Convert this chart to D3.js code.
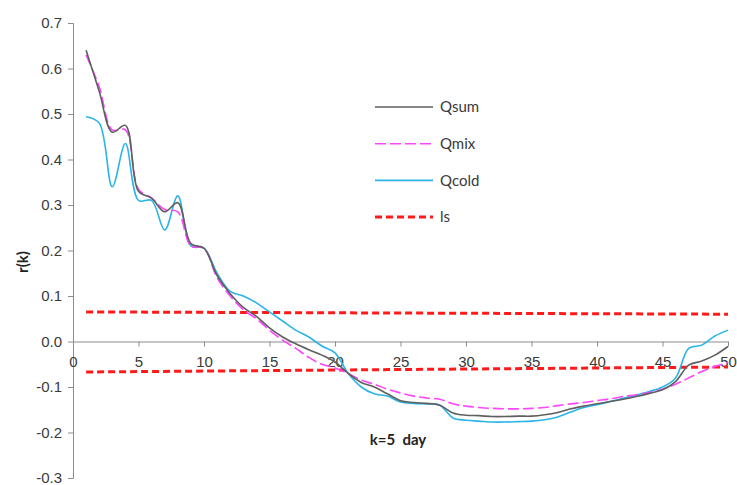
<!DOCTYPE html>
<html>
<head>
<meta charset="utf-8">
<script src="https://cdn.jsdelivr.net/npm/d3@7"></script>
<style>
  html, body { margin: 0; padding: 0; background: #fff; }
  svg { display: block; font-family: Lato, "Open Sans", sans-serif; }
</style>
</head>
<body>
<svg id="chart" width="737" height="485"></svg>
<script>
// Lag k (days) and autocorrelation r(k) for each discharge series
const lags = d3.range(1, 51);

const qsum = [0.64, 0.55, 0.46, 0.475, 0.33, 0.315, 0.285, 0.305, 0.215, 0.205,
  0.145, 0.105, 0.075, 0.055, 0.03, 0.01, -0.005, -0.018, -0.03, -0.045,
  -0.07, -0.09, -0.1, -0.115, -0.13, -0.134, -0.136, -0.14, -0.157, -0.162,
  -0.163, -0.165, -0.165, -0.164, -0.164, -0.161, -0.156, -0.148, -0.142, -0.137,
  -0.132, -0.127, -0.121, -0.114, -0.106, -0.088, -0.052, -0.043, -0.03, -0.011];

const qmix = [0.63, 0.56, 0.465, 0.465, 0.335, 0.315, 0.29, 0.285, 0.21, 0.205,
  0.14, 0.1, 0.07, 0.05, 0.025, 0.003, -0.015, -0.035, -0.05, -0.058,
  -0.07, -0.085, -0.094, -0.105, -0.113, -0.12, -0.124, -0.127, -0.137, -0.142,
  -0.145, -0.147, -0.148, -0.148, -0.147, -0.145, -0.141, -0.137, -0.134, -0.13,
  -0.126, -0.121, -0.117, -0.112, -0.105, -0.094, -0.08, -0.066, -0.055, -0.046];

const qcold = [0.494, 0.48, 0.34, 0.435, 0.31, 0.31, 0.245, 0.32, 0.21, 0.205,
  0.15, 0.11, 0.1, 0.085, 0.065, 0.045, 0.025, 0.01, -0.01, -0.025,
  -0.07, -0.1, -0.115, -0.12, -0.133, -0.136, -0.137, -0.14, -0.168, -0.173,
  -0.175, -0.177, -0.177, -0.176, -0.175, -0.172, -0.166, -0.155, -0.145, -0.139,
  -0.132, -0.125, -0.118, -0.11, -0.1, -0.08, -0.015, -0.008, 0.012, 0.025];

// Significance limits (ls), given at the first and last lag
const lsLags = [1, 50];
const lsUpper = [0.065, 0.060];
const lsLower = [-0.067, -0.056];

const xTicks = d3.range(0, 51, 5);
const yTicks = [-0.3, -0.2, -0.1, 0, 0.1, 0.2, 0.3, 0.4, 0.5, 0.6, 0.7];

const seriesNames = ["Qsum", "Qmix", "Qcold", "ls"];

const svg = d3.select("#chart");
const x = d3.scaleLinear().domain([0, 50]).range([73, 728]);
const y = d3.scaleLinear().domain([-0.3, 0.7]).range([478, 23]);

const axisColor = "#8c8c8c";
const textColor = "#3a3a3a";
const fontSize = "15px";

const styles = {
  Qsum:  { stroke: "#5f5f5f", width: 1.6, dash: null },
  Qmix:  { stroke: "#ff44ff", width: 1.6, dash: "11,4" },
  Qcold: { stroke: "#2bb4e6", width: 1.6, dash: null },
  ls:    { stroke: "#ff1a1a", width: 3,   dash: "7,4" }
};

// Y axis
const yAxis = svg.append("g")
  .attr("transform", `translate(${x(0)},0)`)
  .call(d3.axisLeft(y).tickValues(yTicks).tickSize(5).tickPadding(6)
    .tickFormat(d => d3.format(".1f")(d).replace("\u2212", "-")));
yAxis.select(".domain").attr("stroke", axisColor);
yAxis.selectAll(".tick line").attr("stroke", axisColor);
yAxis.selectAll(".tick text").attr("fill", textColor).style("font-size", fontSize);

// X axis through r = 0
const xAxis = svg.append("g")
  .attr("transform", `translate(0,${y(0)})`)
  .call(d3.axisBottom(x).tickValues(xTicks).tickSize(5).tickSizeOuter(0).tickFormat(d3.format("d")));
xAxis.select(".domain").attr("stroke", axisColor);
xAxis.selectAll(".tick line").attr("stroke", axisColor);
xAxis.selectAll(".tick text").attr("fill", textColor).style("font-size", fontSize)
  .attr("y", 15);

// Series lines
const line = d3.line().curve(d3.curveCatmullRom.alpha(0.5))
  .x(d => x(d[0])).y(d => y(d[1]));

function drawSeries(values, st, keys) {
  svg.append("path")
    .datum(d3.zip(keys, values))
    .attr("fill", "none")
    .attr("stroke", st.stroke)
    .attr("stroke-width", st.width)
    .attr("stroke-dasharray", st.dash)
    .attr("stroke-linejoin", "round")
    .attr("d", line);
}

drawSeries(lsUpper, styles.ls, lsLags);
drawSeries(lsLower, styles.ls, lsLags);
drawSeries(qcold, styles.Qcold, lags);
drawSeries(qmix, styles.Qmix, lags);
drawSeries(qsum, styles.Qsum, lags);

// Legend
const legend = svg.append("g");
seriesNames.forEach((name, i) => {
  const st = styles[name];
  const ly = 107 + i * 36.7;
  legend.append("line")
    .attr("x1", 375).attr("x2", 433).attr("y1", ly).attr("y2", ly)
    .attr("stroke", st.stroke).attr("stroke-width", st.width)
    .attr("stroke-dasharray", st.dash);
  legend.append("text")
    .attr("x", 440).attr("y", ly).attr("dy", "0.35em")
    .attr("fill", textColor).style("font-size", fontSize)
    .text(name);
});

// Axis titles
svg.append("text")
  .attr("transform", "translate(23,262) rotate(-90)")
  .attr("text-anchor", "middle").attr("dy", "0.35em")
  .attr("fill", "#222").style("font-size", fontSize).style("font-weight", "bold")
  .text("r(k)");

svg.append("text")
  .attr("x", 398).attr("y", 440).attr("dy", "0.35em")
  .attr("text-anchor", "middle")
  .attr("fill", "#222").style("font-size", fontSize).style("font-weight", "bold")
  .style("white-space", "pre").attr("xml:space", "preserve")
  .text("k=5  day");
</script>
</body>
</html>
